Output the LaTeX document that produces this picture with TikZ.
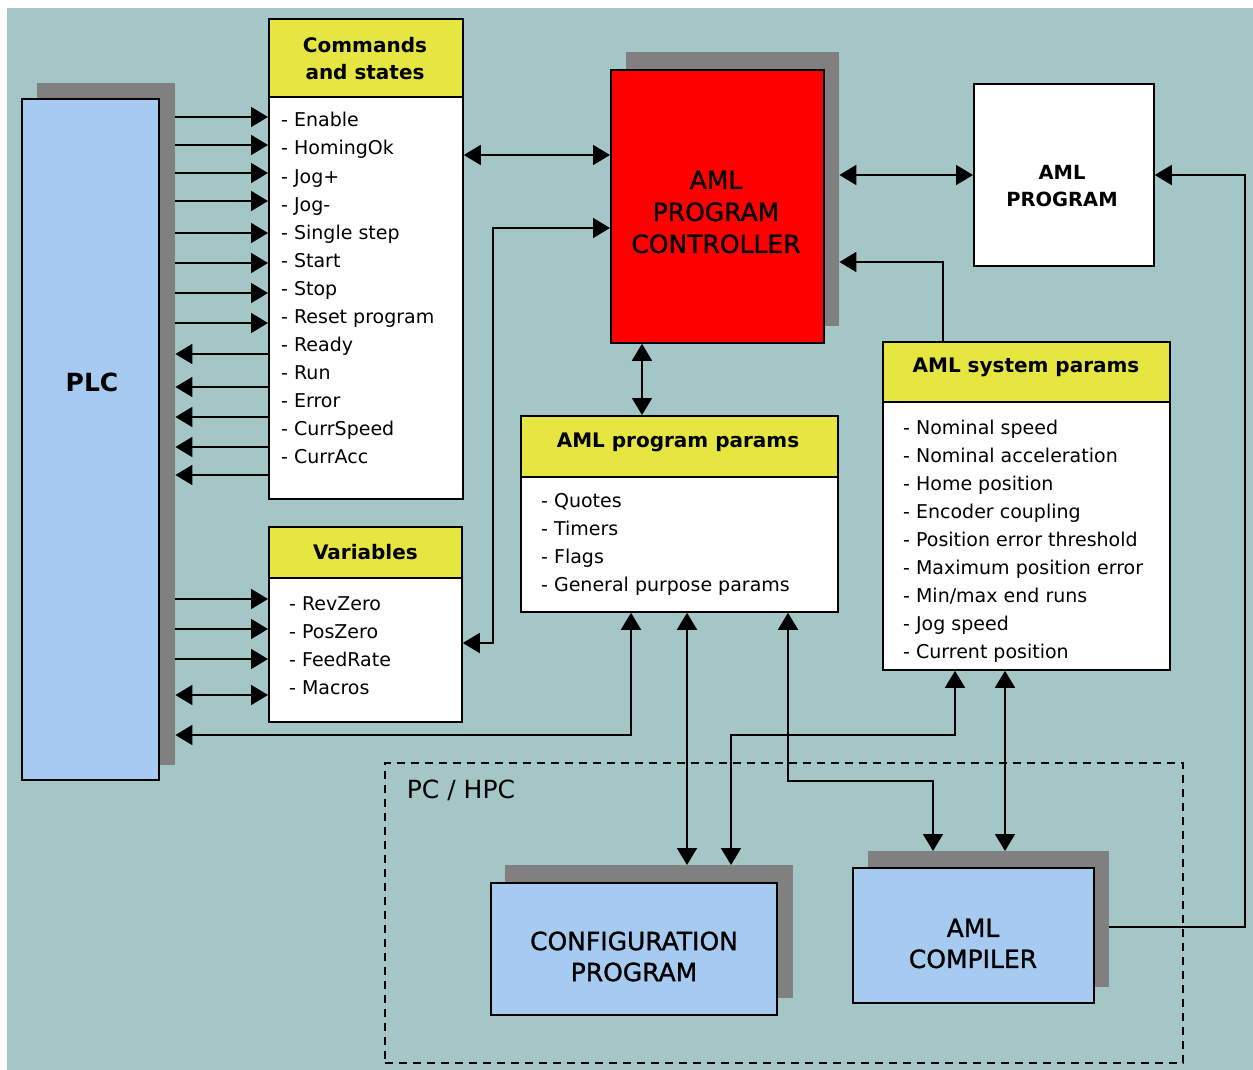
\documentclass[tikz,border=0pt]{standalone}
\usepackage{fontspec}
\setmainfont{DejaVu Sans}
\newfontfamily\mybigfam[FakeBold=1.2]{DejaVu Sans}
\usetikzlibrary{arrows.meta,calc}
\definecolor{bgteal}{RGB}{165,198,199}
\definecolor{boxblue}{RGB}{166,202,240}
\definecolor{hdryellow}{RGB}{230,230,64}
\definecolor{shadowgray}{RGB}{128,128,128}
\definecolor{ctrlred}{RGB}{255,0,0}
\newcommand\myitemfont{\fontsize{19}{19}\selectfont}
\newcommand\myheadfont{\fontsize{20}{27}\selectfont\bfseries}
\newcommand\mybigfont{\mybigfam\fontsize{25}{32}\selectfont}
\begin{document}
\begin{tikzpicture}[x=1pt,y=-1pt,
  rbox/.style={draw=black, line width=1.8pt, inner sep=0pt, anchor=north west},
  shadowbox/.style={fill=shadowgray, draw=none, inner sep=0pt, anchor=north west},
  bluebox/.style={rbox, fill=boxblue},
  hdr/.style={rbox, fill=hdryellow, font=\myheadfont, align=center},
  body/.style={rbox, fill=white},
  item/.style={anchor=base west, inner sep=0pt, font=\myitemfont},
  bigtext/.style={font=\mybigfont, align=center, inner sep=0pt},
  tipshape/.style={},
  arr/.style={line width=1.8pt, -{Triangle[length=17pt,width=20pt]}},
  dbl/.style={line width=1.8pt, {Triangle[length=17pt,width=20pt]}-{Triangle[length=17pt,width=20pt]}},
  pcframe/.style={draw=black, line width=1.6pt, dash pattern=on 8pt off 6pt, inner sep=0pt, anchor=north west}
]
\useasboundingbox (0,0) rectangle (1253,1070);
\fill[white] (0,0) rectangle (1253,1070);
\fill[bgteal] (7,8) rectangle (1253,1070);

% PC / HPC frame
\node[pcframe, minimum width=798pt, minimum height=300pt] (pc) at (384,762) {};
\node[font=\fontsize{25}{25}\selectfont, inner sep=0pt] (pclbl) at (461,790) {PC / HPC};

% PLC
\node[shadowbox, minimum width=138pt, minimum height=682pt] (plcsh) at (37,83) {};
\node[bluebox, minimum width=137pt, minimum height=681pt] (plc) at (21,98) {};
\node[font=\fontsize{25}{25}\selectfont\bfseries, inner sep=0pt] (plclbl) at (92,382) {PLC};

% Commands and states
\node[hdr, minimum width=194pt, minimum height=78pt] (cmdh) at (268,18) {};
\node[font=\myheadfont, align=center, inner sep=0pt] (cmdt) at (365,58.5) {Commands\\and states};
\node[body, minimum width=194pt, minimum height=402pt] (cmd) at (268,96) {};
\foreach \t [count=\i from 0] in {Enable,HomingOk,Jog+,Jog-,Single step,Start,Stop,Reset program,Ready,Run,Error,CurrSpeed,CurrAcc}
  \node[item] (ci\i) at (281,{127+28*\i}) {- \t};

% Variables
\node[hdr, minimum width=193pt, minimum height=51pt] (varh) at (268,526) {Variables};
\node[body, minimum width=193pt, minimum height=144pt] (var) at (268,577) {};
\foreach \t [count=\i from 0] in {RevZero,PosZero,FeedRate,Macros}
  \node[item] (vi\i) at (289,{610+28*\i}) {- \t};

% Controller
\node[shadowbox, minimum width=213pt, minimum height=274pt] (ctrlsh) at (626,52) {};
\node[rbox, fill=ctrlred, minimum width=213pt, minimum height=273pt] (ctrl) at (610,69) {};
\node[bigtext] (ctrlt) at (716,212) {AML\\PROGRAM\\CONTROLLER};

% AML program
\node[body, minimum width=180pt, minimum height=182pt] (prog) at (973,83) {};
\node[font=\fontsize{19.5}{27}\selectfont\bfseries, align=center, inner sep=0pt] (progt) at (1062,186.5) {AML\\PROGRAM};

% AML program params
\node[hdr, minimum width=317pt, minimum height=61pt] (pparh) at (520,415) {};
\node[font=\myheadfont, inner sep=0pt] (ppart) at (678,442) {AML program params};
\node[body, minimum width=317pt, minimum height=135pt] (ppar) at (520,476) {};
\foreach \t [count=\i from 0] in {Quotes,Timers,Flags,General purpose params}
  \node[item] (pi\i) at (541,{507+28*\i}) {- \t};

% AML system params
\node[hdr, minimum width=287pt, minimum height=60pt] (sysh) at (882,341) {};
\node[font=\myheadfont, inner sep=0pt] (syst) at (1026,367) {AML system params};
\node[body, minimum width=287pt, minimum height=268pt] (sys) at (882,401) {};
\foreach \t [count=\i from 0] in {Nominal speed,Nominal acceleration,Home position,Encoder coupling,Position error threshold,Maximum position error,Min/max end runs,Jog speed,Current position}
  \node[item] (si\i) at (903,{434+28*\i}) {- \t};

% Configuration program
\node[shadowbox, minimum width=288pt, minimum height=133pt] (confsh) at (505,865) {};
\node[bluebox, minimum width=286pt, minimum height=132pt] (conf) at (490,882) {};
\node[bigtext, font=\mybigfam\fontsize{25}{31}\selectfont] (conft) at (634,956.5) {CONFIGURATION\\PROGRAM};

% AML compiler
\node[shadowbox, minimum width=241pt, minimum height=136pt] (compsh) at (868,851) {};
\node[bluebox, minimum width=241pt, minimum height=135pt] (comp) at (852,867) {};
\node[bigtext, font=\mybigfam\fontsize{25}{31}\selectfont] (compt) at (973,943.5) {AML\\COMPILER};

% PLC <-> Commands
\foreach \y in {117,145,173,201,233,263,293,323}
  \draw[arr] (plcsh.east |- 0,\y) -- (cmd.west |- 0,\y);
\foreach \y in {354,387,417,447,475}
  \draw[arr] (cmd.west |- 0,\y) -- (plcsh.east |- 0,\y);
% PLC <-> Variables
\foreach \y in {599,629,659}
  \draw[arr] (plcsh.east |- 0,\y) -- (var.west |- 0,\y);
\draw[dbl] (plcsh.east |- 0,695) -- (var.west |- 0,695);

% Commands <-> controller
\draw[dbl] (cmd.east |- 0,155) -- (ctrl.west |- 0,155);
% Variables <-> controller
\draw[dbl] (var.east |- 0,643) -| (493,228) -- (ctrl.west |- 0,228);
% controller <-> program params
\draw[dbl] (ctrl.south -| 642,0) -- (pparh.north -| 642,0);
% controller <-> AML program
\draw[dbl] (ctrlsh.east |- 0,175) -- (prog.west |- 0,175);
% system params -> controller
\draw[arr] (sysh.north -| 943,0) |- (ctrlsh.east |- 0,262);
% compiler -> AML program
\draw[arr] (compsh.east |- 0,927) -| (1245,175) -- (prog.east |- 0,175);
% program params <-> PLC
\draw[dbl] (ppar.south -| 631,0) |- (plcsh.east |- 0,735);
% program params <-> configuration
\draw[dbl] (ppar.south -| 687,0) -- (confsh.north -| 687,0);
% program params <-> compiler
\draw[dbl] (ppar.south -| 788,0) |- (933,781) -- (compsh.north -| 933,0);
% configuration <-> system params
\draw[dbl] (confsh.north -| 731,0) |- (955,735) -- (sys.south -| 955,0);
% system params <-> compiler
\draw[dbl] (sys.south -| 1005,0) -- (compsh.north -| 1005,0);
\end{tikzpicture}
\end{document}
